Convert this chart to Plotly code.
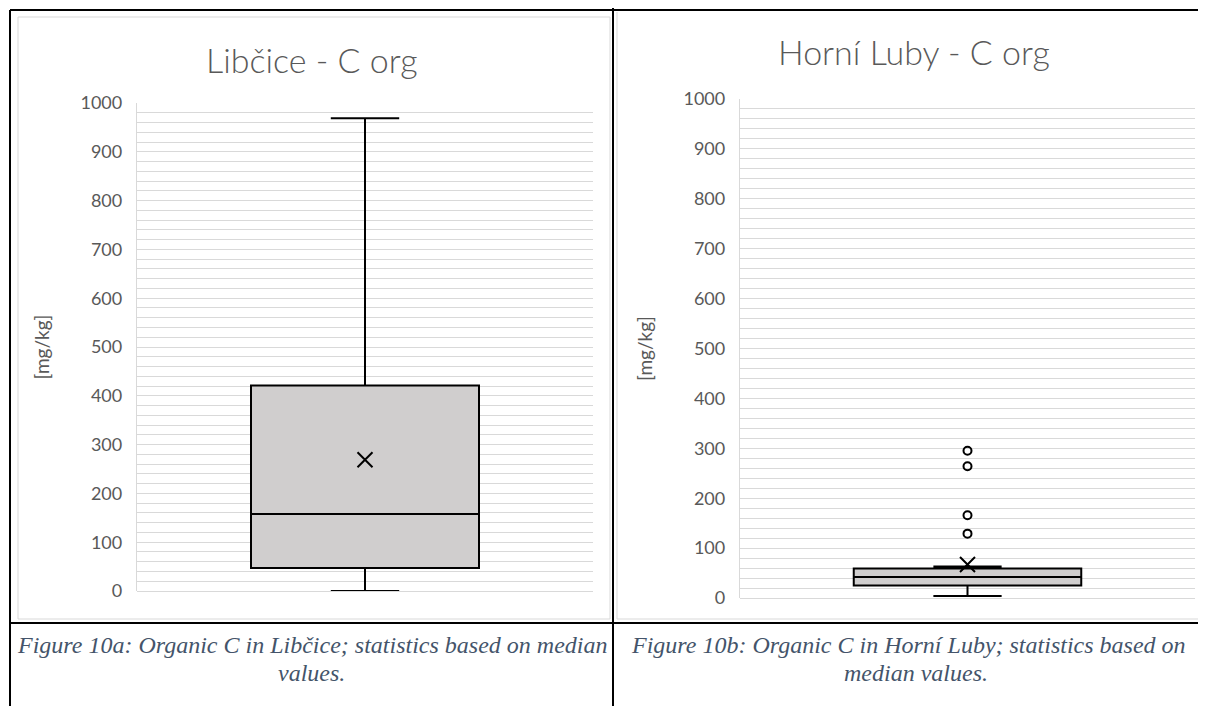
import plotly.graph_objects as go

W, H = 1206, 706
OFF = 8  # page body margin offset compensation

# ---------------- data ----------------
titles = ["Libčice - C org", "Horní Luby - C org"]
caption_lines = [
    ["Figure 10a: Organic C in Libčice; statistics based on median", "values."],
    ["Figure 10b: Organic C in Horní Luby; statistics based on", "median values."],
]
y_label = "[mg/kg]"
tick_vals = [0, 100, 200, 300, 400, 500, 600, 700, 800, 900, 1000]

lib_min = [0]
lib_q1 = [47]
lib_median = [158]
lib_q3 = [421]
lib_max = [969]
lib_mean = [269]
lib_outliers = []

hl_min = [4]
hl_q1 = [25]
hl_median = [42]
hl_q3 = [59]
hl_max = [63]
hl_mean = [67]
hl_outliers = [295, 264, 166, 129]

# ---------------- layout helpers ----------------
def px_x(x):
    return (x - OFF) / W

def px_y(y):
    return 1 - (y - OFF) / H

GRID = "#D9D9D9"
TXT = "#595959"
FONT = "Lato"

fig = go.Figure()

panels = [
    dict(xa="x", ya="y", mn=lib_min, q1=lib_q1, med=lib_median, q3=lib_q3, mx=lib_max,
         mean=lib_mean, out=lib_outliers,
         xdom=[px_x(137), px_x(593)], ydom=[px_y(591), px_y(103)]),
    dict(xa="x2", ya="y2", mn=hl_min, q1=hl_q1, med=hl_median, q3=hl_q3, mx=hl_max,
         mean=hl_mean, out=hl_outliers,
         xdom=[px_x(740), px_x(1195)], ydom=[px_y(598), px_y(99)]),
]

for p in panels:
    fig.add_trace(go.Box(
        x=[0], q1=p["q1"], median=p["med"], q3=p["q3"],
        lowerfence=p["mn"], upperfence=p["mx"],
        width=0.5, whiskerwidth=0.3, boxpoints=False,
        fillcolor="#D0CECE", line=dict(color="#000000", width=2),
        xaxis=p["xa"], yaxis=p["ya"], showlegend=False, hoverinfo="skip",
    ))
    fig.add_trace(go.Scatter(
        x=[0] * len(p["mean"]), y=p["mean"], mode="markers",
        marker=dict(symbol="x-thin", size=15, line=dict(color="#000000", width=2)),
        xaxis=p["xa"], yaxis=p["ya"], showlegend=False, hoverinfo="skip",
    ))
    if p["out"]:
        fig.add_trace(go.Scatter(
            x=[0] * len(p["out"]), y=p["out"], mode="markers",
            marker=dict(symbol="circle-open", size=8, color="#000000",
                        line=dict(color="#000000", width=2)),
            xaxis=p["xa"], yaxis=p["ya"], showlegend=False, hoverinfo="skip",
        ))

def xaxis_cfg(dom, anchor):
    return dict(domain=dom, range=[-0.5, 0.5], showticklabels=False, showgrid=False,
                zeroline=False, showline=False, ticks="", fixedrange=True,
                automargin=False, anchor=anchor)

def yaxis_cfg(dom, anchor):
    return dict(domain=dom, range=[0, 1000], tickvals=tick_vals, showgrid=True,
                gridcolor=GRID, gridwidth=1.3,
                zeroline=True, zerolinecolor=GRID, zerolinewidth=1.3,
                showline=True, linecolor=GRID, linewidth=1.3,
                ticks="", anchor=anchor, automargin=False, layer="below traces",
                minor=dict(dtick=20, showgrid=True, gridcolor=GRID, gridwidth=1.3),
                tickfont=dict(family=FONT, size=18, color=TXT), ticklabelstandoff=10,
                title=dict(text=y_label, font=dict(family=FONT, size=19, color=TXT),
                           standoff=25))

fig.update_layout(
    template="none",
    width=W, height=H, margin=dict(l=0, r=0, t=0, b=0, pad=0, autoexpand=False),
    paper_bgcolor="white", plot_bgcolor="white",
    xaxis=xaxis_cfg(panels[0]["xdom"], "y"),
    yaxis=yaxis_cfg(panels[0]["ydom"], "x"),
    xaxis2=xaxis_cfg(panels[1]["xdom"], "y2"),
    yaxis2=yaxis_cfg(panels[1]["ydom"], "x2"),
)

# titles
title_pos = [(312, 60), (914, 51)]
for t, (tx, ty) in zip(titles, title_pos):
    fig.add_annotation(text=t, x=px_x(tx), y=px_y(ty), xref="paper", yref="paper",
                       showarrow=False, xanchor="center", yanchor="middle",
                       font=dict(family=FONT, size=34, color=TXT, weight=300))

# captions (each line separately for tight line spacing)
cap_centers = [[(312, 645), (311, 673)], [(908, 645), (916, 673)]]
for lines, centers in zip(caption_lines, cap_centers):
    for txt, (cx, cy) in zip(lines, centers):
        fig.add_annotation(text="<i>" + txt + "</i>", x=px_x(cx), y=px_y(cy),
                           xref="paper", yref="paper",
                           showarrow=False, xanchor="center", yanchor="middle",
                           font=dict(family="Liberation Serif", size=24, color="#44546A"))

# table borders and chart frames
shapes = []
def line(x0, y0, x1, y1, color="#000000", width=2):
    shapes.append(dict(type="line", xref="paper", yref="paper",
                       x0=px_x(x0), y0=px_y(y0), x1=px_x(x1), y1=px_y(y1),
                       line=dict(color=color, width=width)))

# light gray chart frames
line(18, 17, 610, 17, GRID, 1)
line(18, 17, 18, 619, GRID, 1)
line(610, 17, 610, 619, GRID, 1)
line(18, 619, 610, 619, GRID, 1)
line(617, 619, 1206, 619, GRID, 1)
line(617, 12, 617, 619, GRID, 1)

# black table lines
line(10, 10, 1214, 10)
line(10, 10, 10, 714)
line(613, 0, 613, 714)
line(10, 623, 1214, 623)

fig.update_layout(shapes=shapes)

fig.write_html("out.html")
